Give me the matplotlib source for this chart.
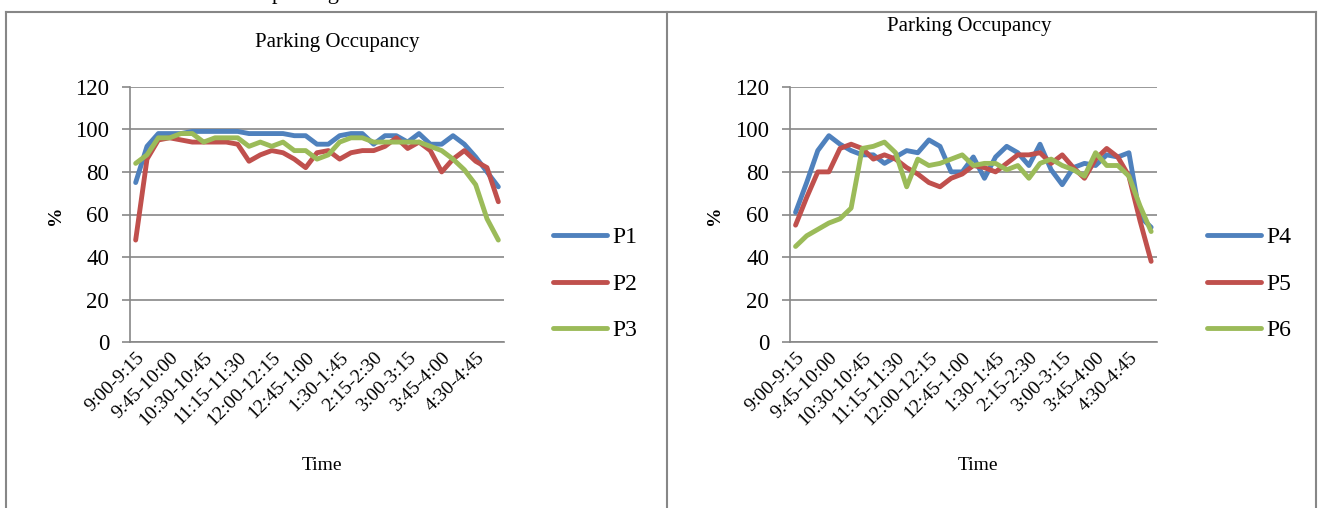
import numpy as np
import matplotlib
matplotlib.use("Agg")
import matplotlib.pyplot as plt
from matplotlib.lines import Line2D

plt.rcParams['font.family'] = ['Liberation Serif', 'DejaVu Serif']

time_labels = ["9:00-9:15", "9:15-9:30", "9:30-9:45", "9:45-10:00", "10:00-10:15",
               "10:15-10:30", "10:30-10:45", "10:45-11:00", "11:00-11:15", "11:15-11:30",
               "11:30-11:45", "11:45-12:00", "12:00-12:15", "12:15-12:30", "12:30-12:45",
               "12:45-1:00", "1:00-1:15", "1:15-1:30", "1:30-1:45", "1:45-2:00",
               "2:00-2:15", "2:15-2:30", "2:30-2:45", "2:45-3:00", "3:00-3:15",
               "3:15-3:30", "3:30-3:45", "3:45-4:00", "4:00-4:15", "4:15-4:30",
               "4:30-4:45", "4:45-5:00", "5:00-5:15"]

p1 = [75, 92, 98, 98, 98, 99, 99, 99, 99, 99, 98, 98, 98, 98, 97, 97, 93,
      93, 97, 98, 98, 93, 97, 97, 94, 98, 93, 93, 97, 93, 87, 80, 73]
p2 = [48, 86, 95, 96, 95, 94, 94, 94, 94, 93, 85, 88, 90, 89, 86, 82, 89,
      90, 86, 89, 90, 90, 92, 96, 91, 94, 90, 80, 86, 90, 85, 82, 66]
p3 = [84, 88, 96, 96, 98, 98, 94, 96, 96, 96, 92, 94, 92, 94, 90, 90, 86,
      88, 94, 96, 96, 94, 94, 94, 94, 94, 92, 90, 86, 81, 74, 58, 48]
p4 = [61, 75, 90, 97, 93, 90, 88, 88, 84, 87, 90, 89, 95, 92, 80, 80, 87,
      77, 87, 92, 89, 83, 93, 81, 74, 82, 84, 83, 88, 87, 89, 59, 54]
p5 = [55, 68, 80, 80, 91, 93, 91, 86, 88, 86, 82, 79, 75, 73, 77, 79, 83,
      82, 80, 84, 88, 88, 89, 84, 88, 82, 77, 86, 91, 87, 78, 57, 38]
p6 = [45, 50, 53, 56, 58, 63, 91, 92, 94, 89, 73, 86, 83, 84, 86, 88, 83,
      84, 84, 81, 83, 77, 84, 86, 83, 81, 78, 89, 83, 83, 78, 64, 52]

colors = ['#4F81BD', '#C0504D', '#9BBB59']
grey = '#878787'

W, H = 1318, 508
fig = plt.figure(figsize=(W / 100, H / 100), dpi=100)


def fx(px):
    return px / W


def fy(py):
    return 1 - py / H


def draw_chart(left, right, series, names, title_x, title_y, leg_x):
    ax = fig.add_axes([fx(left), fy(342.3), fx(right - left), (342.3 - 86.7) / H])
    x = np.arange(len(time_labels))
    for vals, name, c in zip(series, names, colors):
        ax.plot(x, vals, color=c, lw=3.5, label=name,
                solid_capstyle='round', solid_joinstyle='round')
    ax.set_xlim(-0.5, len(time_labels) - 0.5)
    ax.set_ylim(0, 120)
    ax.set_yticks(range(0, 121, 20))
    ax.set_xticks(x[::3])
    ax.set_xticklabels(time_labels[::3], rotation=45, ha='right',
                       rotation_mode='anchor', fontsize=14)
    ax.tick_params(axis='x', length=0, pad=5)
    ax.tick_params(axis='y', direction='out', length=6, width=1.2, color=grey,
                   labelsize=16.5, pad=9)
    ax.grid(axis='y', color=grey, lw=1.2)
    ax.set_axisbelow(True)
    for s in ['top', 'right']:
        ax.spines[s].set_visible(False)
    for s in ['left', 'bottom']:
        ax.spines[s].set_color(grey)
        ax.spines[s].set_linewidth(1.2)
    cx = (left + right) / 2
    fig.text(fx(title_x), fy(title_y), "Parking Occupancy", ha='center', va='center', fontsize=15)
    fig.text(fx(cx + 5), fy(466), "Time", ha='center', va='center', fontsize=14)
    fig.text(fx(left - 75), fy(215), "%", ha='center', va='center', rotation=90,
             fontsize=14, fontweight='bold')
    ax.legend(loc='center left', bbox_to_anchor=(fx(leg_x), fy(284)),
              bbox_transform=fig.transFigure, frameon=False, fontsize=17,
              handlelength=2.3, handletextpad=0.2, labelspacing=1.05,
              borderpad=0, borderaxespad=0)
    return ax


draw_chart(130, 504, [p1, p2, p3], ['P1', 'P2', 'P3'], 337, 43, 553)
draw_chart(790, 1156.7, [p4, p5, p6], ['P4', 'P5', 'P6'], 969, 27, 1207)

# chart frames
frame = dict(color=grey, lw=1.5, transform=fig.transFigure)
fig.add_artist(Line2D([fx(6), fx(1316)], [fy(12), fy(12)], **frame))
for xp in [6, 667, 1316]:
    fig.add_artist(Line2D([fx(xp), fx(xp)], [fy(12), fy(508)], **frame))

# text of the page above, cut off at the top edge
fig.text(fx(272), fy(-1), "parking", ha='left', va='baseline', fontsize=16)

fig.savefig("out.png", dpi=100)
